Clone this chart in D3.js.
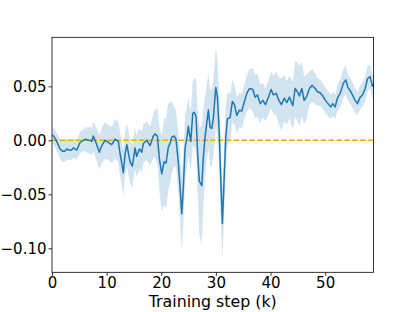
<!DOCTYPE html>
<html>
<head>
<meta charset="utf-8">
<script src="https://cdn.jsdelivr.net/npm/d3@7"></script>
<style>
    body { margin: 0; background: #fff; }
    svg { display: block; font-family: "DejaVu Sans", sans-serif; }
</style>
</head>
<body>
<svg width="415" height="312"></svg>
<script>
// training step (k), mean value, half-width of the shaded band
const steps = [
    0.13, 0.55, 0.86, 1.47, 1.92, 2.38, 2.69, 3.11, 3.6, 3.9, 4.52, 5.13, 5.68, 6.23, 6.65, 6.96,
    7.27, 7.56, 8.19, 8.66, 9.1, 9.7, 10.31, 10.93, 11.54, 12.14, 12.45, 12.77, 13.06, 13.4, 13.7,
    14.29, 14.7, 15.2, 15.5, 15.99, 16.43, 16.72, 17.34, 17.95, 18.55, 18.86, 19.29, 19.65, 20.09,
    20.51, 20.88, 21.3, 21.61, 21.92, 22.34, 22.71, 23.13, 23.44, 23.75, 24.05, 24.36, 24.67, 24.96,
    25.15, 25.4, 25.77, 26.06, 26.37, 26.69, 26.98, 27.42, 27.71, 28.02, 28.33, 28.63, 28.94, 29.25,
    29.54, 29.98, 30.28, 30.59, 30.9, 31.19, 31.5, 31.81, 32.11, 32.6, 33.02, 33.39, 33.83, 34.3,
    34.74, 35.22, 35.66, 36.14, 36.76, 37.18, 37.6, 38.1, 38.59, 39.07, 39.62, 40.11, 40.53, 41.03,
    41.52, 42.0, 42.49, 42.99, 43.46, 44.08, 44.5, 44.93, 45.29, 45.73, 46.15, 46.65, 47.12, 47.62,
    48.17, 48.59, 49.08, 49.58, 50.05, 50.6, 51.04, 51.41, 51.83, 52.25, 52.75, 53.35, 53.79, 54.16,
    54.58, 55.0, 55.49, 55.92, 56.41, 56.83, 57.33, 57.75, 58.24, 58.66, 58.85
];
const meanValue = [
    0.005, 0.002, -0.001, -0.008, -0.010, -0.010, -0.008, -0.009, -0.009, -0.007, -0.009, -0.002,
    0.000, 0.001, 0.000, 0.000, -0.001, 0.004, -0.004, -0.011, -0.005, 0.000, -0.002, -0.004, 0.001,
    -0.001, -0.012, -0.021, -0.030, -0.012, -0.004, -0.020, -0.024, -0.007, -0.015, -0.008, -0.011,
    -0.003, 0.000, -0.005, 0.004, 0.006, 0.004, -0.017, -0.031, -0.020, -0.021, -0.006, -0.003,
    0.003, 0.004, 0.001, -0.021, -0.043, -0.068, -0.043, -0.007, 0.002, 0.013, 0.006, -0.001, 0.025,
    0.026, 0.022, -0.015, -0.038, -0.042, -0.015, 0.003, 0.016, 0.028, 0.012, 0.011, 0.021, 0.049,
    0.040, 0.0095, -0.037, -0.077, -0.037, 0.003, 0.020, 0.021, 0.036, 0.033, 0.023, 0.028, 0.027,
    0.036, 0.0435, 0.048, 0.047, 0.040, 0.042, 0.034, 0.037, 0.033, 0.040, 0.047, 0.042, 0.0435,
    0.037, 0.033, 0.039, 0.035, 0.040, 0.032, 0.048, 0.045, 0.041, 0.048, 0.037, 0.041, 0.048, 0.051,
    0.048, 0.045, 0.044, 0.041, 0.037, 0.0335, 0.031, 0.034, 0.031, 0.039, 0.0435, 0.053, 0.056,
    0.049, 0.046, 0.042, 0.037, 0.034, 0.040, 0.042, 0.048, 0.057, 0.059, 0.050, 0.052
];
const spread = [
    0.008, 0.008, 0.008, 0.009, 0.010, 0.010, 0.010, 0.009, 0.009, 0.009, 0.009, 0.010, 0.010, 0.011,
    0.012, 0.012, 0.013, 0.014, 0.015, 0.016, 0.016, 0.017, 0.016, 0.017, 0.018, 0.019, 0.020, 0.021,
    0.021, 0.020, 0.020, 0.020, 0.020, 0.019, 0.019, 0.019, 0.019, 0.018, 0.018, 0.018, 0.020, 0.022,
    0.026, 0.030, 0.035, 0.040, 0.042, 0.040, 0.038, 0.033, 0.028, 0.026, 0.028, 0.032, 0.034, 0.033,
    0.030, 0.028, 0.027, 0.027, 0.028, 0.030, 0.032, 0.034, 0.040, 0.050, 0.055, 0.045, 0.038, 0.035,
    0.035, 0.035, 0.036, 0.036, 0.036, 0.036, 0.036, 0.035, 0.034, 0.033, 0.030, 0.025, 0.022, 0.020,
    0.018, 0.017, 0.016, 0.016, 0.016, 0.017, 0.018, 0.020, 0.020, 0.020, 0.018, 0.016, 0.015, 0.016,
    0.017, 0.018, 0.020, 0.022, 0.024, 0.022, 0.020, 0.020, 0.022, 0.026, 0.027, 0.028, 0.025, 0.022,
    0.020, 0.016, 0.015, 0.014, 0.013, 0.012, 0.012, 0.012, 0.012, 0.011, 0.011, 0.011, 0.012, 0.013,
    0.013, 0.013, 0.012, 0.012, 0.012, 0.011, 0.011, 0.011, 0.011, 0.012, 0.012, 0.011, 0.011, 0.011
];
const xTicks = [0, 10, 20, 30, 40, 50];
const yTicks = [-0.10, -0.05, 0.00, 0.05];
const xLabel = 'Training step (k)';

const svg = d3.select('svg');
const margin = { left: 52, top: 37.3, right: 41.5, bottom: 39.7 };
const width = 415 - margin.left - margin.right;
const height = 312 - margin.top - margin.bottom;

const data = steps.map((s, i) => ({ s, m: meanValue[i], e: spread[i] }));

const x = d3.scaleLinear().domain([0, 58.85]).range([0, width]);
const y = d3.scaleLinear().domain([-0.1222, 0.0954]).range([height, 0]);

const g = svg.append('g')
    .attr('transform', `translate(${margin.left},${margin.top})`);

// shaded spread band
g.append('path')
    .datum(data)
    .attr('fill', '#1f77b4')
    .attr('fill-opacity', 0.2)
    .attr('d', d3.area()
        .x(d => x(d.s))
        .y0(d => y(d.m - d.e))
        .y1(d => y(d.m + d.e)));

// zero reference
g.append('line')
    .attr('x1', 0)
    .attr('x2', width)
    .attr('y1', y(0))
    .attr('y2', y(0))
    .attr('stroke', 'orange')
    .attr('stroke-width', 1.5)
    .attr('stroke-dasharray', '5.5,2.4');

g.append('path')
    .datum(data)
    .attr('fill', 'none')
    .attr('stroke', '#1f77b4')
    .attr('stroke-width', 1.5)
    .attr('stroke-linejoin', 'round')
    .attr('d', d3.line()
        .x(d => x(d.s))
        .y(d => y(d.m)));

const xAxis = g.append('g')
    .attr('transform', `translate(0,${height})`)
    .call(d3.axisBottom(x).tickValues(xTicks).tickFormat(d3.format('d')).tickSize(3.5).tickPadding(1.5));
const yAxis = g.append('g')
    .call(d3.axisLeft(y).tickValues(yTicks).tickFormat(d3.format('.2f')).tickSize(3.5).tickPadding(2));

[xAxis, yAxis].forEach((a) => {
    a.select('.domain').remove();
    a.selectAll('line').attr('stroke', '#000').attr('stroke-width', 0.8);
    a.selectAll('text').attr('font-size', 15).attr('fill', '#000')
        .attr('font-family', '"DejaVu Sans", sans-serif');
});

g.append('rect')
    .attr('width', width)
    .attr('height', height)
    .attr('fill', 'none')
    .attr('stroke', '#000')
    .attr('stroke-width', 0.8);

g.append('text')
    .attr('x', width / 2)
    .attr('y', height + 34.5)
    .attr('text-anchor', 'middle')
    .attr('font-size', 15.8)
    .text(xLabel);
</script>
</body>
</html>
